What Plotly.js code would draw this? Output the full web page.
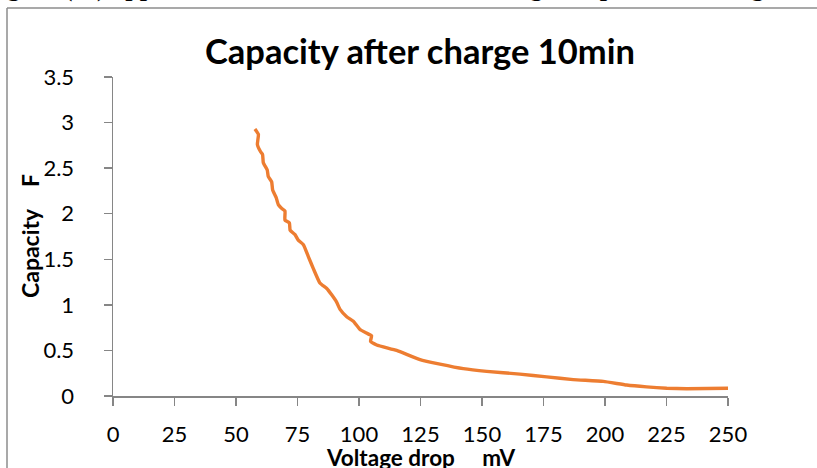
<!DOCTYPE html>
<html>
<head>
<meta charset="utf-8">
<script src="https://cdn.plot.ly/plotly-3.0.1.min.js"></script>
<style>html,body{margin:0;padding:0;background:#fff;}#chart{width:817px;height:468px;}</style>
</head>
<body>
<div id="chart"></div>
<script>
// Data
var voltageDrop = [57.7, 59.1, 58.7, 60.0, 60.8, 61.1, 62.7, 63.1, 64.5, 64.9, 66.3, 67.2, 68.5, 69.9, 69.9, 71.7, 72.0, 74.0, 75.3, 77.4, 79.4, 81.4, 84.1, 86.9, 88.9, 90.9, 92.3, 95.0, 97.7, 100.4, 103.1, 105.1, 104.7, 107.2, 115.3, 124.8, 132.9, 142.4, 151.9, 165.4, 176.3, 187.1, 199.3, 208.8, 216.9, 225.1, 233.2, 250.4];
var capacity = [2.93, 2.87, 2.76, 2.68, 2.65, 2.56, 2.48, 2.41, 2.35, 2.26, 2.18, 2.10, 2.06, 2.03, 1.93, 1.90, 1.82, 1.77, 1.71, 1.66, 1.53, 1.40, 1.24, 1.18, 1.11, 1.03, 0.95, 0.87, 0.82, 0.73, 0.69, 0.66, 0.60, 0.56, 0.50, 0.40, 0.35, 0.30, 0.27, 0.24, 0.21, 0.18, 0.16, 0.12, 0.10, 0.085, 0.08, 0.085];
var xTicks = [0, 25, 50, 75, 100, 125, 150, 175, 200, 225, 250];
var yTicks = [0, 0.5, 1, 1.5, 2, 2.5, 3, 3.5];
var chartTitle = "Capacity after charge 10min";
var xTitle = "Voltage drop &nbsp;&nbsp;&nbsp; mV";
var yTitle = "Capacity &nbsp;&nbsp;&nbsp;F";
var captionText = "igure (11) appear &nbsp;the relation between the voltage drop and discharge ti";

var W = 817, H = 468;
var mL = 113, mR = 89, mT = 77, mB = 72;
var pw = W - mL - mR, ph = H - mT - mB;
function px2x(p){ return (p - mL) / pw; }
function py2y(p){ return (H - mB - p) / ph; }

var axisColor = '#868686';
var fam = 'Lato, "Open Sans", sans-serif';
var tickFont = {family: fam, size: 22, color: '#000'};

var trace = {
  x: voltageDrop, y: capacity, type: 'scatter', mode: 'lines',
  line: {color: '#ED7D31', width: 3.4, shape: 'spline', smoothing: 0.4},
  hoverinfo: 'skip'
};

var layout = {
  width: W, height: H,
  margin: {l: mL, r: mR, t: mT, b: mB, pad: 0},
  paper_bgcolor: '#fff', plot_bgcolor: '#fff',
  showlegend: false,
  title: {text: '<b>' + chartTitle + '</b>', x: px2x(420), xanchor: 'center', xref: 'paper',
          y: 1 - 52 / H, yanchor: 'middle', yref: 'container',
          font: {family: fam, size: 34.5, color: '#000'}},
  xaxis: {
    range: [0, 250], tickvals: xTicks, ticktext: xTicks.map(String),
    showline: true, linecolor: axisColor, linewidth: 1.5,
    ticks: 'outside', ticklen: 8, tickwidth: 1.5, tickcolor: axisColor,
    showgrid: false, zeroline: false, tickfont: tickFont, ticklabelstandoff: 10,
    fixedrange: true
  },
  yaxis: {
    range: [0, 3.5], tickvals: yTicks, ticktext: yTicks.map(String),
    showline: true, linecolor: axisColor, linewidth: 1.5,
    ticks: 'outside', ticklen: 8, tickwidth: 1.5, tickcolor: axisColor,
    showgrid: false, zeroline: false, tickfont: tickFont, ticklabelstandoff: 25,
    fixedrange: true
  },
  shapes: [
    {type: 'line', xref: 'paper', yref: 'paper', x0: px2x(7), x1: px2x(830), y0: py2y(8), y1: py2y(8),
     line: {color: '#8c8c8c', width: 1.5}},
    {type: 'line', xref: 'paper', yref: 'paper', x0: px2x(7), x1: px2x(7), y0: py2y(8), y1: py2y(480),
     line: {color: '#8c8c8c', width: 1.5}}
  ],
  annotations: [
    {text: '<b>' + captionText + '</b>', xref: 'paper', yref: 'paper', x: px2x(-2), y: py2y(-13),
     xanchor: 'left', yanchor: 'middle', showarrow: false,
     font: {family: '"Liberation Serif", "Times New Roman", serif', size: 26, color: '#000'}},
    {text: '<b>' + xTitle + '</b>', xref: 'paper', yref: 'paper', x: px2x(420), y: py2y(458),
     xanchor: 'center', yanchor: 'middle', showarrow: false,
     font: {family: fam, size: 22.5, color: '#000'}},
    {text: '<b>' + yTitle + '</b>', xref: 'paper', yref: 'paper', x: px2x(30), y: py2y(236),
     xanchor: 'center', yanchor: 'middle', showarrow: false, textangle: -90,
     font: {family: fam, size: 23, color: '#000'}}
  ]
};

Plotly.newPlot('chart', [trace], layout, {staticPlot: true, displayModeBar: false});
</script>
</body>
</html>
